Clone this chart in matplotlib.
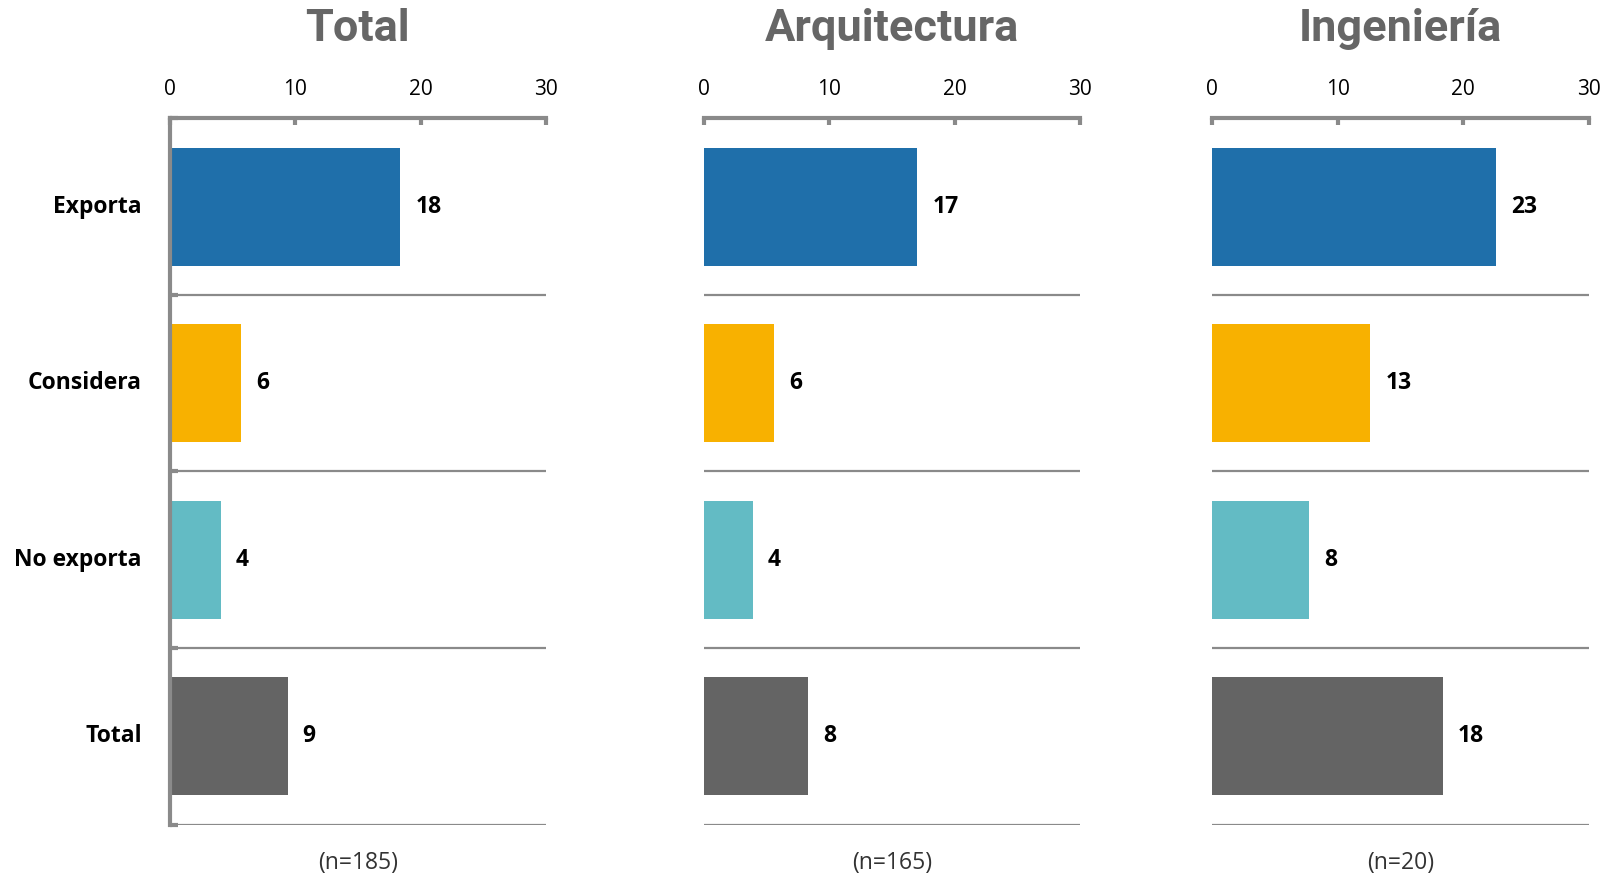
import numpy as np
import matplotlib.pyplot as plt

# Data
categories = ["Exporta", "Considera", "No exporta", "Total"]
panels = ["Total", "Arquitectura", "Ingeniería"]
n_labels = ["(n=185)", "(n=165)", "(n=20)"]
total_vals = [18.4, 5.7, 4.1, 9.4]
arq_vals = [17.0, 5.6, 3.9, 8.3]
ing_vals = [22.6, 12.6, 7.7, 18.4]
bar_colors = ["#1F6FAA", "#F8B100", "#63BBC4", "#646464"]
xticks = [0, 10, 20, 30]

plt.rcParams["font.family"] = ["Open Sans", "DejaVu Sans"]

fig = plt.figure(figsize=(16.12, 8.75), dpi=100)
lefts = [0.1052, 0.4367, 0.752]
width = 0.2335
bottom, height = 0.0577, 0.807
axis_gray = "#8A8A8A"

y = np.arange(len(categories))
for i, (name, vals, nlab) in enumerate(zip(panels, [total_vals, arq_vals, ing_vals], n_labels)):
    ax = fig.add_axes([lefts[i], bottom, width, height])
    ax.barh(y, vals, height=0.67, color=bar_colors)
    for yy, v in zip(y, vals):
        ax.text(v + 1.2, yy, f"{v:.0f}", va="center", ha="left",
                fontsize=16.5, fontweight="bold")
    ax.set_xlim(0, 30)
    ax.set_ylim(3.5, -0.5)
    # row separators
    for b in [0.5, 1.5, 2.5, 3.5]:
        ax.axhline(b, color=axis_gray, lw=1.6, zorder=0)
    ax.xaxis.tick_top()
    ax.set_xticks(xticks)
    ax.tick_params(axis="x", direction="in", length=5, width=3, color=axis_gray,
                   labelsize=15, pad=13)
    for s in ["bottom", "right"]:
        ax.spines[s].set_visible(False)
    ax.spines["top"].set_color(axis_gray)
    ax.spines["top"].set_linewidth(3)
    if i == 0:
        ax.spines["left"].set_color(axis_gray)
        ax.spines["left"].set_linewidth(3)
        ax.set_yticks([-0.5, 0.5, 1.5, 2.5, 3.5])
        ax.set_yticklabels([])
        ax.tick_params(axis="y", direction="in", length=6, width=3, color=axis_gray)
        for yy, c in zip(y, categories):
            ax.text(-2.2, yy, c, ha="right", va="center", fontsize=16.5,
                    fontweight="bold")
    else:
        ax.spines["left"].set_visible(False)
        ax.set_yticks([])
    ax.set_title(name, fontsize=32.5, fontweight="bold", color="#666666",
                 family=["Roboto", "DejaVu Sans"], pad=56)
    ax.annotate(nlab, xy=(0.5, 0), xycoords="axes fraction", xytext=(0, -28),
                textcoords="offset points", ha="center", va="center",
                fontsize=16.5, color="#333333")

plt.savefig("out.png", dpi=100)
